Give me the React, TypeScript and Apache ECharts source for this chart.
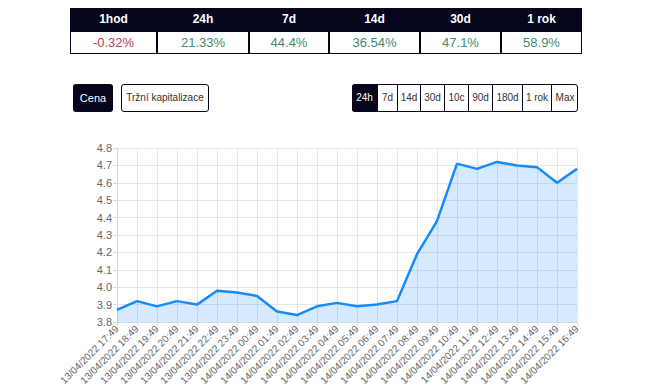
import React, { useEffect, useRef } from "react";
import * as echarts from "echarts";

const periods = ["1hod", "24h", "7d", "14d", "30d", "1 rok"];
const changes = [-0.32, 21.33, 44.4, 36.54, 47.1, 58.9];
const changeLabels = ["-0.32%", "21.33%", "44.4%", "36.54%", "47.1%", "58.9%"];
const colEdges = [70, 157, 249, 329, 420, 501, 582];

const rangeButtons = ["24h", "7d", "14d", "30d", "10c", "90d", "180d", "1 rok", "Max"];
const rangeEdges = [352, 377, 397, 420, 444, 468, 492, 522, 551, 578];

const categories = [
  "13/04/2022 17:49", "13/04/2022 18:49", "13/04/2022 19:49", "13/04/2022 20:49",
  "13/04/2022 21:49", "13/04/2022 22:49", "13/04/2022 23:49", "14/04/2022 00:49",
  "14/04/2022 01:49", "14/04/2022 02:49", "14/04/2022 03:49", "14/04/2022 04:49",
  "14/04/2022 05:49", "14/04/2022 06:49", "14/04/2022 07:49", "14/04/2022 08:49",
  "14/04/2022 09:49", "14/04/2022 10:49", "14/04/2022 11:49", "14/04/2022 12:49",
  "14/04/2022 13:49", "14/04/2022 14:49", "14/04/2022 15:49", "14/04/2022 16:49",
];
const prices = [
  3.87, 3.92, 3.89, 3.92, 3.9, 3.98, 3.97, 3.95, 3.86, 3.84, 3.89, 3.91,
  3.89, 3.9, 3.92, 4.19, 4.38, 4.71, 4.68, 4.72, 4.7, 4.69, 4.6, 4.68,
];

const NAVY = "#05051c";
const FONT = "'Liberation Sans', Arial, sans-serif";

export default function App() {
  const ref = useRef<HTMLDivElement>(null);
  useEffect(() => {
    if (!ref.current) return;
    const chart = echarts.init(ref.current, null, { renderer: "svg" });
    chart.setOption({
      animation: false,
      grid: { left: 117, right: 73, top: 148, bottom: 68 },
      xAxis: {
        type: "category",
        data: categories,
        boundaryGap: false,
        axisLine: { lineStyle: { color: "#d9d9d9" } },
        axisTick: { show: true, length: 4, lineStyle: { color: "#d9d9d9" } },
        splitLine: { show: true, lineStyle: { color: "#e6e6e6" } },
        axisLabel: {
          interval: 0,
          rotate: 45,
          color: "#666",
          fontSize: 10,
          fontFamily: FONT,
          margin: 5,
        },
      },
      yAxis: {
        type: "value",
        min: 3.8,
        max: 4.8,
        interval: 0.1,
        axisLine: { show: true, lineStyle: { color: "#d9d9d9" } },
        axisTick: { show: true, length: 4, lineStyle: { color: "#d9d9d9" } },
        splitLine: { show: true, lineStyle: { color: "#e6e6e6" } },
        axisLabel: {
          color: "#666",
          fontSize: 11,
          fontFamily: FONT,
          margin: 5,
          formatter: (v: number) => (Math.round(v * 10) / 10).toFixed(1),
        },
      },
      series: [
        {
          type: "line",
          data: prices,
          symbol: "none",
          lineStyle: { color: "#168aff", width: 2.5 },
          itemStyle: { color: "#168aff" },
          areaStyle: { color: "rgba(22,138,255,0.25)" },
        },
      ],
    });
    return () => chart.dispose();
  }, []);

  const cell = (x0: number, x1: number): React.CSSProperties => ({
    position: "absolute",
    left: x0,
    width: x1 - x0,
    textAlign: "center",
    boxSizing: "border-box",
  });

  return (
    <div
      style={{
        position: "absolute",
        left: 0,
        top: 0,
        width: 650,
        height: 390,
        background: "#fff",
        fontFamily: FONT,
        overflow: "hidden",
      }}
    >
      <div ref={ref} style={{ position: "absolute", left: 0, top: 0, width: 650, height: 390 }} />
      <div
        style={{
          position: "absolute",
          left: 70,
          top: 8,
          width: 512,
          height: 46,
          background: NAVY,
        }}
      />
      {periods.map((p, i) => (
        <div
          key={"h" + p}
          style={{
            ...cell(colEdges[i], colEdges[i + 1]),
            top: 8,
            height: 23,
            lineHeight: "23px",
            color: "#fff",
            fontWeight: "bold",
            fontSize: 12,
          }}
        >
          {p}
        </div>
      ))}
      {changeLabels.map((c, i) => (
        <div
          key={"d" + i}
          style={{
            ...cell(colEdges[i] + 1, colEdges[i + 1] - 1),
            top: 32,
            height: 21,
            lineHeight: "21px",
            background: "#fff",
            color: changes[i] < 0 ? "#c0394a" : "#3d8a6c",
            fontSize: 13,
          }}
        >
          {c}
        </div>
      ))}
      <div
        style={{
          position: "absolute",
          left: 73,
          top: 84,
          width: 40,
          height: 28,
          lineHeight: "28px",
          background: NAVY,
          color: "#fff",
          borderRadius: 3,
          textAlign: "center",
          fontSize: 11,
        }}
      >
        Cena
      </div>
      <div
        style={{
          position: "absolute",
          left: 121,
          top: 84,
          width: 88,
          height: 28,
          lineHeight: "26px",
          background: "#fff",
          color: "#333",
          border: "1px solid " + NAVY,
          boxSizing: "border-box",
          borderRadius: 3,
          textAlign: "center",
          fontSize: 10,
        }}
      >
        Tržní kapitalizace
      </div>
      <div
        style={{
          position: "absolute",
          left: 352,
          top: 84,
          width: 578 - 352,
          height: 28,
          border: "1px solid " + NAVY,
          boxSizing: "border-box",
          borderRadius: 3,
          background: "#fff",
        }}
      />
      {rangeButtons.map((b, i) => (
        <div
          key={"r" + b}
          style={{
            position: "absolute",
            left: rangeEdges[i],
            top: 84,
            width: rangeEdges[i + 1] - rangeEdges[i],
            height: 28,
            lineHeight: "28px",
            textAlign: "center",
            fontSize: 10,
            color: i === 0 ? "#fff" : "#333",
            background: i === 0 ? NAVY : "transparent",
            borderLeft: i > 0 ? "1px solid " + NAVY : "none",
            boxSizing: "border-box",
            borderRadius: i === 0 ? "3px 0 0 3px" : 0,
          }}
        >
          {b}
        </div>
      ))}
    </div>
  );
}
